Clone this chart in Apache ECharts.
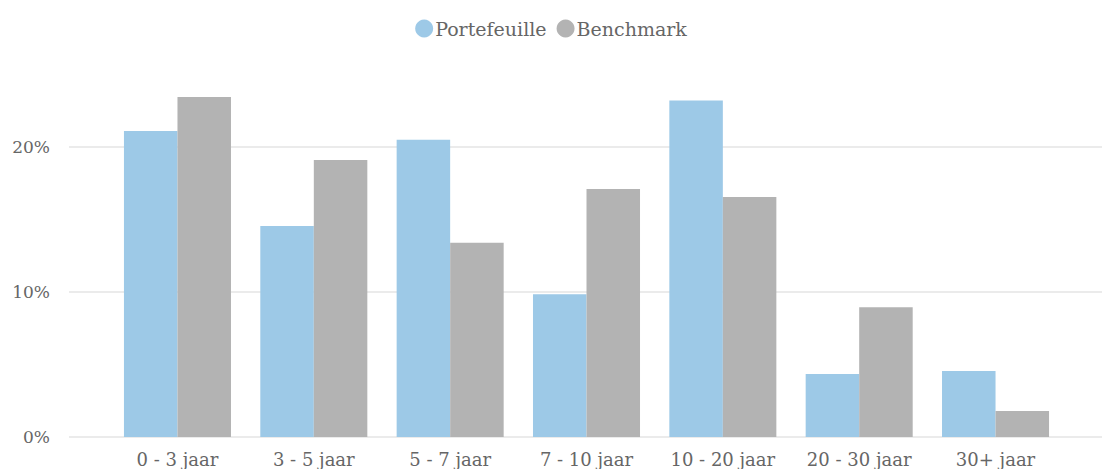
<!DOCTYPE html>
<html>
<head>
<meta charset="utf-8">
<script src="https://cdn.jsdelivr.net/npm/echarts@6/dist/echarts.min.js"></script>
<style>
  html, body { margin: 0; padding: 0; background: #fff; }
  #chart { width: 1102px; height: 469px; }
</style>
</head>
<body>
<div id="chart"></div>
<script>
var categories = ['0 - 3 jaar', '3 - 5 jaar', '5 - 7 jaar', '7 - 10 jaar', '10 - 20 jaar', '20 - 30 jaar', '30+ jaar']
var portefeuille = [21.1, 14.55, 20.5, 9.85, 23.2, 4.35, 4.55]
var benchmark = [23.45, 19.1, 13.4, 17.1, 16.55, 8.95, 1.8]

var fontFamily = '"DejaVu Serif", serif'
var textColor = '#666666'

var chart = echarts.init(document.getElementById('chart'), null, {renderer: 'svg'})

var option = {
  animation: false,
  textStyle: { fontFamily: fontFamily },
  legend: {
    top: 14,
    left: 'center',
    icon: 'circle',
    itemWidth: 18,
    itemHeight: 18,
    itemGap: 10,
    textStyle: { color: textColor, fontSize: 19, fontFamily: fontFamily, padding: [0, 0, 0, -3] },
    data: ['Portefeuille', 'Benchmark']
  },
  grid: [{
    left: 69,
    right: 0,
    top: 74.5,
    bottom: 32
  }, {
    left: 109.3,
    right: 38.3,
    top: 74.5,
    bottom: 32
  }],
  xAxis: [{
    gridIndex: 0,
    type: 'value',
    show: false
  }, {
    gridIndex: 1,
    type: 'category',
    data: categories,
    axisLine: { show: false },
    axisTick: { show: false },
    axisLabel: {
      color: textColor,
      fontSize: 18,
      fontFamily: fontFamily,
      margin: 13
    }
  }],
  yAxis: [{
    gridIndex: 0,
    type: 'value',
    min: 0,
    max: 25,
    interval: 10,
    axisLine: { show: false },
    axisTick: { show: false },
    axisLabel: {
      color: textColor,
      fontSize: 17,
      fontFamily: fontFamily,
      margin: 19,
      showMaxLabel: false,
      formatter: '{value}%'
    },
    splitLine: {
      showMaxLine: false,
      lineStyle: { color: '#ebebeb', width: 2 }
    }
  }, {
    gridIndex: 1,
    type: 'value',
    min: 0,
    max: 25,
    show: false,
    splitLine: { show: false }
  }],
  series: [{
    name: 'Portefeuille',
    type: 'bar',
    xAxisIndex: 1,
    yAxisIndex: 1,
    barGap: '0%',
    barCategoryGap: '21.5%',
    itemStyle: { color: '#9dc9e7' },
    data: portefeuille
  }, {
    name: 'Benchmark',
    type: 'bar',
    xAxisIndex: 1,
    yAxisIndex: 1,
    barGap: '0%',
    barCategoryGap: '21.5%',
    itemStyle: { color: '#b3b3b3' },
    data: benchmark
  }]
}

chart.setOption(option, true)
</script>
</body>
</html>
